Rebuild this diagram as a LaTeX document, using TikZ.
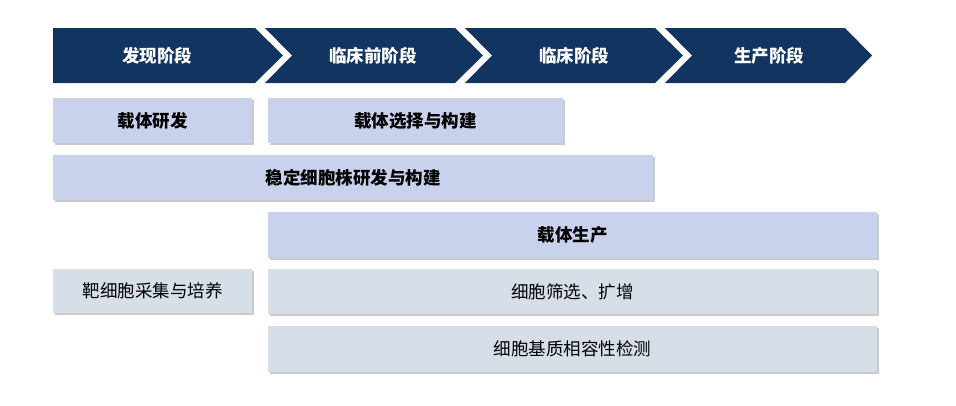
\documentclass[tikz,border=0pt]{standalone}
\usepackage{fontspec}
\newfontfamily\cjk{Noto Sans CJK SC}
\usetikzlibrary{positioning,shadows}
\definecolor{navy}{RGB}{18,52,96}
\definecolor{lavender}{RGB}{200,210,236}
\definecolor{paleblue}{RGB}{214,222,232}
\begin{document}
\begin{tikzpicture}[x=1pt,y=-1pt,
    stage/.style={text=white, font=\cjk\fontsize{17.5}{17.5}\selectfont\bfseries},
    taskbox/.style={rectangle, anchor=north west, minimum height=45pt, inner sep=0pt,
        drop shadow={shadow xshift=2pt, shadow yshift=-2pt, opacity=0.35, fill=black!60},
        font=\cjk\fontsize{17.5}{17.5}\selectfont},
    keytask/.style={taskbox, fill=lavender, font=\cjk\fontsize{17.5}{17.5}\selectfont\bfseries},
    subtask/.style={taskbox, fill=paleblue}]
                \useasboundingbox (0,0) rectangle (956,405);
                \fill[navy] (53,28) -- (255,28) -- (283,55.5) -- (255,83) -- (53,83) -- cycle;
                \fill[navy] (265,28) -- (455,28) -- (483,55.5) -- (455,83) -- (265,83) -- (292,55.5) -- cycle;
                \fill[navy] (465,28) -- (655,28) -- (683,55.5) -- (655,83) -- (465,83) -- (492,55.5) -- cycle;
                \fill[navy] (665,28) -- (845,28) -- (872,55.5) -- (845,83) -- (665,83) -- (692,55.5) -- cycle;
                \node[stage] (discovery) at (157,55.5) {发现阶段};
                \node[stage] (preclinical) at (373,55.5) {临床前阶段};
                \node[stage] (clinical) at (574,55.5) {临床阶段};
                \node[stage] (production) at (769,55.5) {生产阶段};
                \node[keytask, minimum width=199pt] (vecdev) at (53,98) {载体研发};
                \node[keytask, minimum width=295pt] (vecsel) at (268,98) {载体选择与构建};
                \node[keytask, minimum width=600pt] (cellline) at (53,155) {稳定细胞株研发与构建};
                \node[keytask, minimum width=609pt, minimum height=46pt] (vecprod) at (268,212) {载体生产};
                \node[subtask, minimum width=199pt, minimum height=44pt] (targetcell) at (53,269) {靶细胞采集与培养};
                \node[subtask, minimum width=609pt] (screen) at (268,269) {细胞筛选、扩增};
                \node[subtask, minimum width=609pt, minimum height=46pt] (compat) at (268,326) {细胞基质相容性检测};
            \end{tikzpicture}
\end{document}
